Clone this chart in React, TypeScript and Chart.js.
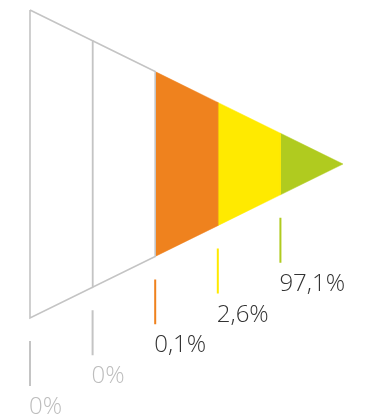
import React, { useEffect, useRef } from 'react';
import { Chart, registerables } from 'chart.js';

Chart.register(...registerables);

// ---- data ----
const stageLabels: string[] = ['0%', '0%', '0,1%', '2,6%', '97,1%'];
const stageValues: number[] = [0, 0, 0.1, 2.6, 97.1];
const stageFills: string[] = ['#ffffff', '#ffffff', '#EF821E', '#FFEA00', '#B0CB1F'];
const stageTickColors: string[] = ['#c4c4c4', '#c4c4c4', '#EF821E', '#FFEA00', '#B0CB1F'];
const stageTextColors: string[] = ['#bdbdbd', '#bdbdbd', '#333333', '#333333', '#333333'];
const outlineColor = '#c4c4c4';

// ---- layout (style) ----
const N = stageValues.length;
const halfHeight = (x: number) => 1 - x / N;
const TICK_GAP = 0.149;
const TICK_LEN = 0.292;
const LABEL_OFFSET_PX = 28;

function polygon(i: number) {
  return [
    { x: i, y: halfHeight(i) },
    { x: i + 1, y: halfHeight(i + 1) },
    { x: i + 1, y: -halfHeight(i + 1) },
    { x: i, y: -halfHeight(i) },
    { x: i, y: halfHeight(i) },
  ];
}

function tickLine(i: number) {
  const start = -halfHeight(i) - TICK_GAP;
  return [
    { x: i, y: start },
    { x: i, y: start - TICK_LEN },
  ];
}

const labelPlugin = {
  id: 'stageLabels',
  afterDatasetsDraw(chart: any) {
    const { ctx, scales } = chart;
    const xs = scales.x;
    const ys = scales.y;
    ctx.save();
    ctx.font = '350 24px "Open Sans", Lato, sans-serif';
    ctx.textAlign = 'left';
    ctx.textBaseline = 'alphabetic';
    stageLabels.forEach((lab, i) => {
      const end = -halfHeight(i) - TICK_GAP - TICK_LEN;
      const px = xs.getPixelForValue(i) - 1;
      const py = ys.getPixelForValue(end) + LABEL_OFFSET_PX;
      ctx.fillStyle = stageTextColors[i];
      ctx.fillText(lab, px, py);
    });
    ctx.restore();
  },
};

export default function App() {
  const ref = useRef<HTMLCanvasElement | null>(null);

  useEffect(() => {
    if (!ref.current) return;
    const datasets: any[] = [];
    stageValues.forEach((v, i) => {
      const white = stageFills[i] === '#ffffff';
      datasets.push({
        label: stageLabels[i],
        data: polygon(i),
        showLine: true,
        fill: 'shape',
        backgroundColor: stageFills[i],
        borderColor: white ? outlineColor : stageFills[i],
        borderWidth: white ? 1.6 : 0.5,
        pointRadius: 0,
        order: white ? 1 : 2,
      });
    });
    stageValues.forEach((v, i) => {
      datasets.push({
        label: 'tick ' + stageLabels[i],
        data: tickLine(i),
        showLine: true,
        fill: false,
        borderColor: stageTickColors[i],
        borderWidth: 2,
        pointRadius: 0,
        order: 0,
      });
    });

    const chart = new Chart(ref.current, {
      type: 'scatter',
      data: { datasets },
      options: {
        animation: false,
        responsive: true,
        maintainAspectRatio: false,
        layout: { padding: 0 },
        events: [],
        plugins: {
          legend: { display: false },
          tooltip: { enabled: false },
        },
        scales: {
          x: { type: 'linear', display: false, min: -0.479, max: 5.367 },
          y: { type: 'linear', display: false, min: -1.662, max: 1.065 },
        },
      },
      plugins: [labelPlugin],
    });
    return () => chart.destroy();
  }, []);

  return (
    <div style={{ position: 'fixed', left: 0, top: 0, width: 366, height: 420, background: '#fff' }}>
      <canvas ref={ref} />
    </div>
  );
}
